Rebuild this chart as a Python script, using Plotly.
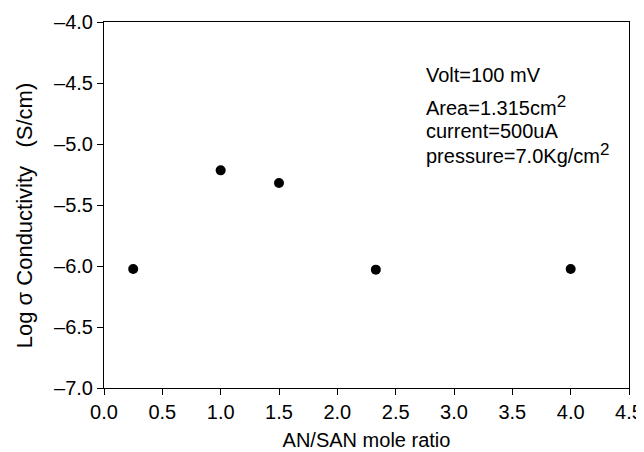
import plotly.graph_objects as go

# Data
mole_ratio = [0.25, 1.0, 1.5, 2.33, 4.0]
log_conductivity = [-6.025, -5.216, -5.32, -6.03, -6.025]

x_ticks = [0.0, 0.5, 1.0, 1.5, 2.0, 2.5, 3.0, 3.5, 4.0, 4.5]
y_ticks = [-7.0, -6.5, -6.0, -5.5, -5.0, -4.5, -4.0]

SUP2 = "<sup><span style='font-size:17px'>2</span></sup>"
notes = ["Volt=100 mV", "Area=1.315cm" + SUP2, "current=500uA",
         "pressure=7.0Kg/cm" + SUP2]
note_y = [0.855, 0.772, 0.702, 0.642]

FONT = "Liberation Sans, Arial, sans-serif"

fig = go.Figure()
fig.add_trace(go.Scatter(
    x=mole_ratio, y=log_conductivity, mode="markers",
    marker=dict(color="black", size=10),
    showlegend=False,
))

axis_common = dict(
    showline=True, linecolor="black", linewidth=1, mirror=True,
    ticks="outside", ticklen=6, tickcolor="black", tickwidth=1,
    showgrid=False, zeroline=False, automargin=False,
    tickfont=dict(family=FONT, size=20, color="black"),
)

fig.update_xaxes(
    range=[0, 4.5], tickvals=x_ticks,
    ticktext=[f"{v:.1f}" for v in x_ticks],
    title=dict(text="AN/SAN mole ratio", font=dict(family=FONT, size=20, color="black"), standoff=10),
    **axis_common,
)
fig.update_yaxes(
    range=[-7, -4], tickvals=y_ticks,
    ticktext=[f"\u2013{abs(v):.1f}" for v in y_ticks],
    **axis_common,
)

# y-axis title placed as rotated text
fig.add_annotation(
    text="Log \u03c3 Conductivity &nbsp;&nbsp;(S/cm)", xref="paper", yref="paper",
    x=-0.150, y=0.47, xanchor="center", yanchor="middle", textangle=-90,
    showarrow=False, font=dict(family=FONT, size=22, color="black"),
)

for t, yy in zip(notes, note_y):
    fig.add_annotation(
        text=t, xref="paper", yref="paper", x=0.61, y=yy,
        xanchor="left", yanchor="middle", showarrow=False,
        font=dict(family=FONT, size=20, color="black"),
    )

# page body adds an 8px offset; size the figure so the plot lands where it should
fig.update_layout(
    width=636, height=444,
    margin=dict(l=96, r=15, t=14, b=64),
    plot_bgcolor="white", paper_bgcolor="white",
    font=dict(family=FONT, color="black"),
)

fig.write_html("out.html")
